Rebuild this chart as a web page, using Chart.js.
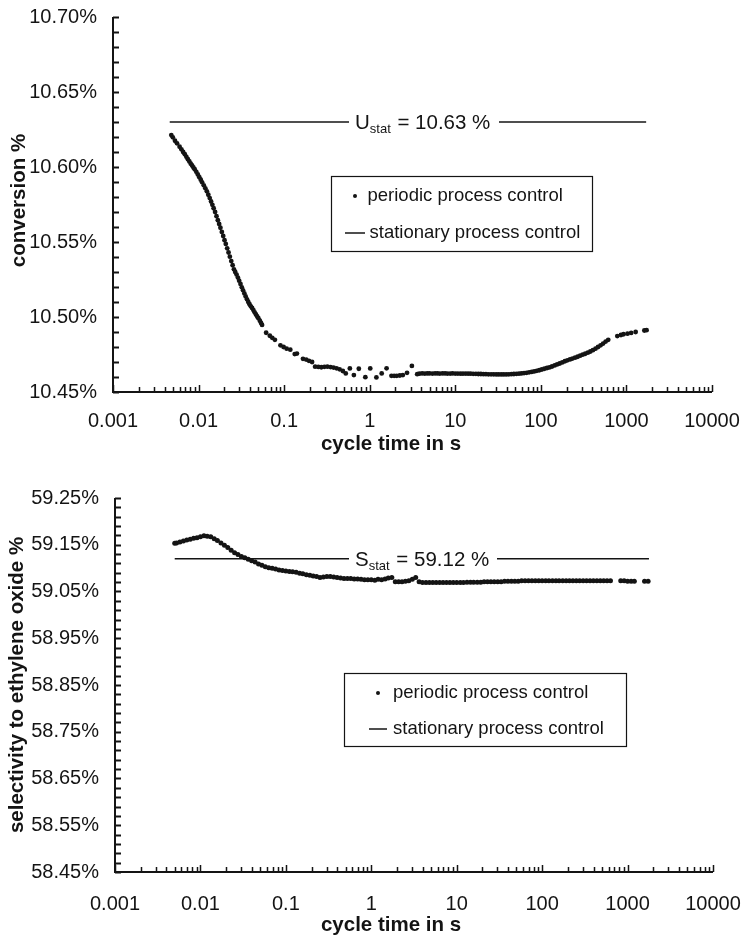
<!DOCTYPE html>
<html>
<head>
<meta charset="utf-8">
<script src="https://cdn.jsdelivr.net/npm/chart.js@4.4.1/dist/chart.umd.min.js"></script>
<style>
  html, body { margin: 0; padding: 0; background: #fff; }
  #wrap { position: relative; width: 741px; height: 936px; }
  canvas { position: absolute; left: 0; }
  #conv { top: 0; }
  #sel { top: 468px; }
</style>
</head>
<body>
<div id="wrap">
  <canvas id="conv" width="741" height="460"></canvas>
  <canvas id="sel" width="741" height="468"></canvas>
</div>
<script>
// ---------- conversion vs. cycle time ----------
const convCycleTime = [
  0.0048,0.0050,0.0053,0.0056,0.0060,0.0063,0.0066,0.0069,0.0072,0.0075,
  0.0078,0.0081,0.0084,0.0087,0.0090,0.0094,0.0098,0.0102,0.0106,0.0110,
  0.0115,0.0120,0.0125,0.0130,0.0135,0.0140,0.0145,0.0150,0.0156,0.0162,
  0.0168,0.0174,0.0180,0.0187,0.0194,0.0201,0.0208,0.0216,0.0224,0.0232,
  0.0241,0.0250,0.0259,0.0268,0.0278,0.0288,0.0298,0.0309,0.0320,0.0331,
  0.0343,0.0355,0.0368,0.0381,0.0394,0.0408,0.0422,0.0437,0.0452,0.0468,
  0.0484,0.0500,0.0520,0.0537,0.0552,
  0.0616,0.0680,0.0726,0.0780,0.0905,0.0985,0.107,0.118,0.133,0.141,
  0.166,0.181,0.195,0.212,0.230,0.251,0.272,0.295,0.320,0.349,
  0.378,0.410,0.445,0.485,0.525,0.586,0.653,0.746,0.889,1.014,
  1.197,1.380,1.574,1.795,1.93,2.07,2.25,2.44,2.73,3.11,3.59,
  3.8,4.1,4.4,4.7,5.0,5.4,5.8,6.2,6.6,7.1,7.6,8.1,8.7,9.3,
  10.0,10.7,11.5,12.3,13.2,14.1,15.1,16.2,17.4,18.6,
  19.9,21.3,22.8,24.4,26.2,28.0,30.0,32.1,34.4,36.8,
  39.4,42.2,45.2,48.4,51.8,55.5,59.4,63.6,68.1,72.9,
  78.1,83.6,89.5,95.8,
  102.6,110,118,126,135,145,155,166,178,191,
  204,219,234,251,269,288,308,330,354,379,
  406,435,466,499,534,572,613,
  782,863,925,1030,1136,1282,1620,1720
];
const conversionPct = [
  10.6213,10.6198,10.6175,10.6158,10.6135,10.6118,10.6100,10.6085,10.6068,10.6052,
  10.6037,10.6022,10.6010,10.5997,10.5985,10.5968,10.5950,10.5932,10.5915,10.5898,
  10.5878,10.5858,10.5838,10.5815,10.5793,10.5770,10.5748,10.5725,10.5700,10.5672,
  10.5645,10.5620,10.5595,10.5567,10.5540,10.5512,10.5487,10.5458,10.5430,10.5402,
  10.5373,10.5345,10.5318,10.5300,10.5283,10.5263,10.5242,10.5220,10.5198,10.5178,
  10.5157,10.5137,10.5118,10.5100,10.5085,10.5071,10.5060,10.5046,10.5031,10.5017,
  10.5004,10.4992,10.4975,10.4960,10.4947,
  10.4895,10.4875,10.4861,10.4848,10.4811,10.4800,10.4789,10.4782,10.4753,10.4756,
  10.4721,10.4716,10.4708,10.4700,10.4669,10.4667,10.4665,10.4668,10.4669,10.4666,
  10.4663,10.4658,10.4651,10.4640,10.4624,10.4657,10.4613,10.4655,10.4599,10.4657,
  10.4597,10.4624,10.4658,10.4608,10.4608,10.4608,10.4610,10.4613,10.4628,10.4674,10.4619,
  10.4622,10.4624,10.4623,10.4624,10.4624,10.4623,10.4624,10.4624,10.4623,10.4624,10.4624,10.4623,10.4623,10.4624,
  10.4623,10.4623,10.4622,10.4622,10.4623,10.4622,10.4622,10.4621,10.4621,10.4620,
  10.4620,10.4619,10.4619,10.4618,10.4618,10.4618,10.4617,10.4617,10.4617,10.4617,
  10.4617,10.4618,10.4619,10.4620,10.4621,10.4622,10.4624,10.4626,10.4628,10.4631,
  10.4634,10.4637,10.4641,10.4645,
  10.4650,10.4655,10.4660,10.4664,10.4670,10.4677,10.4684,10.4690,10.4697,10.4705,
  10.4711,10.4717,10.4723,10.4729,10.4735,10.4742,10.4749,10.4755,10.4762,10.4770,
  10.4779,10.4789,10.4800,10.4811,10.4823,10.4836,10.4848,
  10.4873,10.4880,10.4885,10.4889,10.4894,10.4900,10.4910,10.4912
];
const convStat = 10.63;                 // U_stat, stationary conversion
const convStatSpan = [0.0046, 1700];    // cycle-time range of the stationary line
const convYTicks = [10.45, 10.50, 10.55, 10.60, 10.65, 10.70];

// ---------- selectivity vs. cycle time ----------
const selCycleTime = [
  0.0050,0.00525,0.00575,0.00631,0.00692,0.00759,0.00832,0.00912,
  0.0100,0.0110,0.0120,0.0132,0.0145,0.0158,0.0174,0.0191,0.0209,0.0229,0.0251,0.0275,0.0302,0.0331,0.0363,0.0398,0.0437,0.0479,0.0525,0.0575,0.0631,0.0692,0.0759,0.0832,0.0912,
  0.100,0.110,0.120,0.132,0.145,0.158,0.174,0.191,0.209,0.229,0.251,0.275,0.302,0.331,0.363,0.398,0.437,0.479,0.525,0.575,0.631,0.692,0.759,0.832,0.912,
  1.00,1.10,1.20,1.32,1.45,1.58,1.74,1.91,2.09,2.29,2.51,2.75,3.02,3.31,3.63,3.98,4.37,4.79,5.25,5.75,6.31,6.92,7.59,8.32,9.12,
  10.0,11.0,12.0,13.2,14.5,15.8,17.4,19.1,20.9,22.9,25.1,27.5,30.2,33.1,36.3,39.8,43.7,47.9,52.5,57.5,63.1,69.2,75.9,83.2,91.2,
  100,110,120,132,145,158,174,191,209,229,251,275,302,331,363,398,437,479,525,575,631,
  832,912,1000,1100,1200,
  1580,1740
];
const selectivityPct = [
  59.153,59.154,59.156,59.158,59.160,59.162,59.164,59.165,
  59.167,59.169,59.168,59.167,59.163,59.159,59.154,59.149,59.144,59.138,59.133,59.129,59.125,59.122,59.119,59.116,59.113,59.109,59.106,59.103,59.101,59.100,59.098,59.096,59.095,
  59.094,59.093,59.092,59.091,59.089,59.088,59.086,59.085,59.083,59.082,59.080,59.081,59.082,59.082,59.081,59.080,59.079,59.078,59.078,59.078,59.077,59.077,59.076,59.075,59.075,
  59.075,59.074,59.076,59.075,59.077,59.079,59.080,59.071,59.071,59.071,59.072,59.073,59.076,59.080,59.071,59.069,59.069,59.069,59.069,59.069,59.069,59.069,59.069,59.069,59.069,
  59.069,59.069,59.069,59.070,59.070,59.070,59.070,59.070,59.071,59.071,59.071,59.071,59.071,59.071,59.072,59.072,59.072,59.072,59.072,59.073,59.073,59.073,59.073,59.073,59.073,
  59.073,59.073,59.073,59.073,59.073,59.073,59.073,59.073,59.073,59.073,59.073,59.073,59.073,59.073,59.073,59.073,59.073,59.073,59.073,59.073,59.073,
  59.073,59.073,59.072,59.072,59.072,
  59.072,59.072
];
const selStat = 59.12;                  // S_stat, stationary selectivity
const selStatSpan = [0.0050, 1780];
const selYTicks = [58.45, 58.55, 58.65, 58.75, 58.85, 58.95, 59.05, 59.15, 59.25];

// ---------- shared axis ----------
const cycleTicks = [0.001, 0.01, 0.1, 1, 10, 100, 1000, 10000];
const cycleTickLabels = ['0.001', '0.01', '0.1', '1', '10', '100', '1000', '10000'];
const seriesLabels = ['periodic process control', 'stationary process control'];

const INK = '#141414';
const FAMILY = "'Liberation Sans', Arial, Helvetica, sans-serif";

// Axis lines, inward tick marks, stationary-value caption, legend box and axis titles.
const decor = {
  id: 'decor',
  afterDatasetDraw(chart, args, o) {
    if (args.index !== 1) return;
    const { ctx, chartArea: a } = chart;
    const y = chart.scales.y.getPixelForValue(o.stat);
    ctx.save();
    ctx.fillStyle = '#fff';
    ctx.fillRect(a.left + o.gapL, y - 3, o.gapR - o.gapL, 6);
    ctx.fillStyle = INK;
    ctx.textBaseline = 'alphabetic';
    let x = a.left + o.capDx;
    ctx.font = `20.5px ${FAMILY}`;
    ctx.fillText(o.symbol, x, y + 7);
    x += ctx.measureText(o.symbol).width;
    ctx.font = `13px ${FAMILY}`;
    ctx.fillText('stat', x, y + 11);
    x += ctx.measureText('stat').width;
    ctx.font = `20.5px ${FAMILY}`;
    ctx.fillText(' = ' + o.stat.toFixed(2) + ' %', x + 1, y + 7);
    ctx.restore();
  },
  afterDraw(chart, args, o) {
    const { ctx, chartArea: a } = chart;
    const xs = chart.scales.x, ys = chart.scales.y;
    ctx.save();
    ctx.strokeStyle = INK;
    ctx.fillStyle = INK;

    // axis lines
    ctx.lineWidth = 2;
    ctx.beginPath();
    ctx.moveTo(a.left, a.top);
    ctx.lineTo(a.left, a.bottom);
    ctx.lineTo(a.right, a.bottom);
    ctx.stroke();

    // y ticks pointing into the plot
    ctx.lineWidth = 1.8;
    const n = Math.round((ys.max - ys.min) / o.minorStep);
    ctx.beginPath();
    for (let i = 0; i <= n; i++) {
      const py = Math.round(ys.getPixelForValue(ys.min + i * o.minorStep)) + 0.5;
      ctx.moveTo(a.left, py);
      ctx.lineTo(a.left + 6, py);
    }
    ctx.stroke();

    // logarithmic x ticks: 1..9 per decade, decades a bit taller
    ctx.lineWidth = 1.5;
    ctx.beginPath();
    for (let d = 0; d < cycleTicks.length; d++) {
      const base = cycleTicks[d];
      const top = d === cycleTicks.length - 1 ? 1 : 9;
      for (let m = 1; m <= top; m++) {
        const px = Math.round(xs.getPixelForValue(base * m)) + 0.5;
        const h = m === 1 ? 7 : 5;
        ctx.moveTo(px, a.bottom);
        ctx.lineTo(px, a.bottom - h);
      }
    }
    ctx.stroke();

    // legend
    const L = o.legend;
    const bx = a.left + L.dx, by = a.top + L.dy;
    ctx.lineWidth = 1.2;
    ctx.strokeRect(Math.round(bx) + 0.5, Math.round(by) + 0.5, L.w, L.h);
    ctx.font = `18.5px ${FAMILY}`;
    ctx.textBaseline = 'middle';
    ctx.textAlign = 'left';
    ctx.beginPath();
    ctx.arc(bx + L.dotDx, by + L.row1, 2, 0, Math.PI * 2);
    ctx.fill();
    ctx.fillText(chart.data.datasets[0].label, bx + L.text1Dx, by + L.row1);
    ctx.lineWidth = 1.5;
    ctx.beginPath();
    ctx.moveTo(bx + L.lineDx0, by + L.row2);
    ctx.lineTo(bx + L.lineDx1, by + L.row2);
    ctx.stroke();
    ctx.fillText(chart.data.datasets[1].label, bx + L.text2Dx, by + L.row2);

    // axis titles
    ctx.font = `bold 20.5px ${FAMILY}`;
    ctx.textAlign = 'center';
    ctx.fillText(o.xTitle, a.left + o.xTitleDx, a.bottom + o.xTitleDy);
    ctx.translate(o.yTitleX, (a.top + a.bottom) / 2 + o.yTitleDy);
    ctx.rotate(-Math.PI / 2);
    ctx.fillText(o.yTitle, 0, 0);
    ctx.restore();
  }
};

function panel(id, p) {
  return new Chart(document.getElementById(id), {
    data: {
      datasets: [
        {
          type: 'scatter',
          label: seriesLabels[0],
          data: p.t.map((t, i) => ({ x: t, y: p.v[i] })),
          pointRadius: p.dot,
          pointHoverRadius: p.dot,
          pointBackgroundColor: INK,
          pointBorderWidth: 0,
          showLine: false
        },
        {
          type: 'line',
          label: seriesLabels[1],
          data: p.span.map(t => ({ x: t, y: p.stat })),
          borderColor: INK,
          borderWidth: 1.5,
          pointRadius: 0,
          fill: false
        }
      ]
    },
    options: {
      responsive: false,
      animation: false,
      devicePixelRatio: 1,
      layout: { padding: p.pad },
      plugins: {
        legend: { display: false },
        tooltip: { enabled: false },
        decor: p.decor
      },
      scales: {
        x: {
          type: 'logarithmic',
          min: 0.001,
          max: 10000,
          afterBuildTicks: s => { s.ticks = cycleTicks.map(v => ({ value: v })); },
          afterFit: s => { s.height = p.xHeight; s.paddingLeft = 0; s.paddingRight = 0; },
          grid: { display: false, drawTicks: false },
          border: { display: false },
          ticks: {
            color: INK,
            font: { family: FAMILY, size: 20 },
            padding: p.xPad,
            maxRotation: 0,
            autoSkip: false,
            callback: (v, i) => cycleTickLabels[i]
          }
        },
        y: {
          type: 'linear',
          min: p.yTicks[0],
          max: p.yTicks[p.yTicks.length - 1],
          afterBuildTicks: s => { s.ticks = p.yTicks.map(v => ({ value: v })); },
          afterFit: s => { s.width = p.yWidth; s.paddingTop = 0; s.paddingBottom = 0; },
          grid: { display: false, drawTicks: false },
          border: { display: false },
          ticks: {
            color: INK,
            font: { family: FAMILY, size: 20 },
            padding: 16,
            callback: v => v.toFixed(2) + '%'
          }
        }
      }
    },
    plugins: [decor]
  });
}

panel('conv', {
  t: convCycleTime, v: conversionPct, dot: 2.4,
  span: convStatSpan, stat: convStat, yTicks: convYTicks,
  pad: { top: 17, right: 29, left: 0, bottom: 0 },
  yWidth: 113, xHeight: 68, xPad: 17,
  decor: {
    minorStep: 0.01, stat: convStat, symbol: 'U',
    capDx: 242, gapL: 236, gapR: 386,
    xTitle: 'cycle time in s', xTitleDx: 278, xTitleDy: 52,
    yTitle: 'conversion %', yTitleX: 19, yTitleDy: -4,
    legend: { dx: 218, dy: 159, w: 261, h: 75, dotDx: 24, text1Dx: 36.5, row1: 20,
              row2: 57, lineDx0: 14, lineDx1: 34, text2Dx: 38.5 }
  }
});

panel('sel', {
  t: selCycleTime, v: selectivityPct, dot: 2.5,
  span: selStatSpan, stat: selStat, yTicks: selYTicks,
  pad: { top: 30, right: 28, left: 0, bottom: 0 },
  yWidth: 115, xHeight: 64, xPad: 20,
  decor: {
    minorStep: 0.02, stat: selStat, symbol: 'S',
    capDx: 240, gapL: 234, gapR: 382,
    xTitle: 'cycle time in s', xTitleDx: 276, xTitleDy: 53,
    yTitle: 'selectivity to ethylene oxide %', yTitleX: 17, yTitleDy: 0,
    legend: { dx: 229, dy: 175, w: 282, h: 73, dotDx: 34, text1Dx: 49, row1: 20,
              row2: 56, lineDx0: 25, lineDx1: 43, text2Dx: 49 }
  }
});
</script>
</body>
</html>
